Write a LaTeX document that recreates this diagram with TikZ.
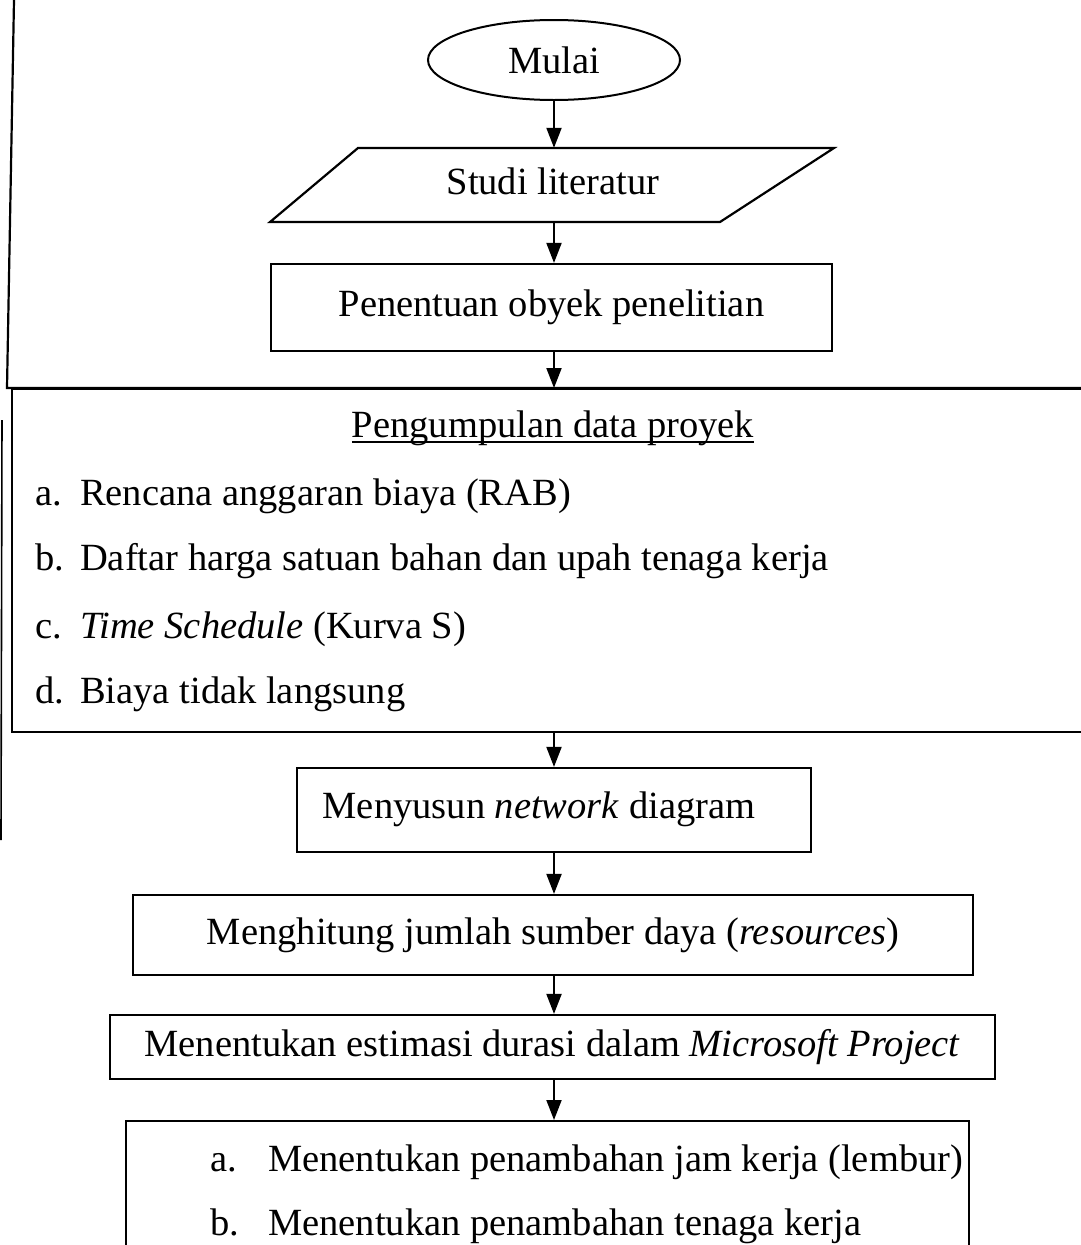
\documentclass[tikz,border=0pt]{standalone}
\usepackage{fontspec}
\setmainfont{Liberation Serif}
\usetikzlibrary{arrows.meta,shapes.geometric}
\begin{document}
\begin{tikzpicture}[x=1pt,y=-1pt,
  txt/.style={font=\fontsize{38.5}{46}\selectfont, inner sep=0pt},
  box/.style={draw, line width=2.2pt, inner sep=0pt, font=\fontsize{38.5}{46}\selectfont,
    text height=26pt, text depth=8pt},
  arr/.style={line width=2pt, -{Triangle[length=20pt,width=15pt]}},
  frame/.style={line width=2.2pt},
]
\useasboundingbox (0,0) rectangle (1081,1245);
\clip (0,0) rectangle (1081,1245);

% page frame lines
\draw[frame] (14,0) -- (7,388) -- (1090,388);
\draw[line width=1.6pt] (2,420) -- (1,840);

% Mulai
\node[draw, ellipse, line width=2pt, minimum width=252pt, minimum height=80pt,
  inner sep=0pt, font=\fontsize{38.5}{46}\selectfont] (mulai) at (554,60) {Mulai};

% Studi literatur (parallelogram)
\node[inner sep=0pt, minimum width=450pt, minimum height=74pt, font=\fontsize{38.5}{46}\selectfont,
  text height=26pt, text depth=8pt] (studi) at (553,185) {Studi literatur};
\draw[line width=2.2pt, line join=miter] (358,148) -- (834,148) -- (720,222) -- (270,222) -- cycle;

% Penentuan
\node[box, minimum width=561pt, minimum height=87pt] (pen) at (551.5,307.5) {Penentuan obyek penelitian};

% Pengumpulan data proyek
\node[box, anchor=north west, minimum width=1100pt, minimum height=343pt] (data) at (11,388) {};
\node[txt, anchor=base] (title) at (553,437) {Pengumpulan data proyek};
\draw[line width=1.8pt] ([yshift=-5pt]title.base west) -- ([yshift=-5pt]title.base east);
\node[txt, anchor=base west] (la) at (35,505) {a.};
\node[txt, anchor=base west] (ta) at (80,505) {Rencana anggaran biaya (RAB)};
\node[txt, anchor=base west] (lb) at (35,570) {b.};
\node[txt, anchor=base west] (tb) at (80,570) {Daftar harga satuan bahan dan upah tenaga kerja};
\node[txt, anchor=base west] (lc) at (35,638) {c.};
\node[txt, anchor=base west] (tc) at (80,638) {\textit{Time Schedule} (Kurva S)};
\node[txt, anchor=base west] (ld) at (35,703) {d.};
\node[txt, anchor=base west] (td) at (80,703) {Biaya tidak langsung};

% Menyusun network diagram
\node[box, minimum width=514pt, minimum height=84pt] (nets) at (554,810) {};
\node[txt, anchor=base] (netsT) at (539,818) {Menyusun \textit{network} diagram};

% Menghitung
\node[box, minimum width=840pt, minimum height=80pt] (mh) at (553,935) {Menghitung jumlah sumber daya (\textit{resources})};

% Menentukan estimasi
\node[box, minimum width=885pt, minimum height=64pt] (me) at (552.5,1047) {Menentukan estimasi durasi dalam \textit{Microsoft Project}};

% bottom box
\node[box, anchor=north west, minimum width=843pt, minimum height=200pt] (opt) at (125,1120) {};
\node[txt, anchor=base west] (oa) at (210,1171) {a.};
\node[txt, anchor=base west] (ota) at (268,1171) {Menentukan penambahan jam kerja (lembur)};
\node[txt, anchor=base west] (ob) at (210,1235) {b.};
\node[txt, anchor=base west] (otb) at (268,1235) {Menentukan penambahan tenaga kerja};

% arrows
\draw[arr] (mulai.south) -- (mulai.south |- studi.north);
\draw[arr] (mulai.south |- studi.south) -- (mulai.south |- pen.north);
\draw[arr] (mulai.south |- pen.south) -- (mulai.south |- data.north);
\draw[arr] (mulai.south |- data.south) -- (nets.north);
\draw[arr] (nets.south) -- (nets.south |- mh.north);
\draw[arr] (nets.south |- mh.south) -- (nets.south |- me.north);
\draw[arr] (nets.south |- me.south) -- (nets.south |- opt.north);
\end{tikzpicture}
\end{document}
